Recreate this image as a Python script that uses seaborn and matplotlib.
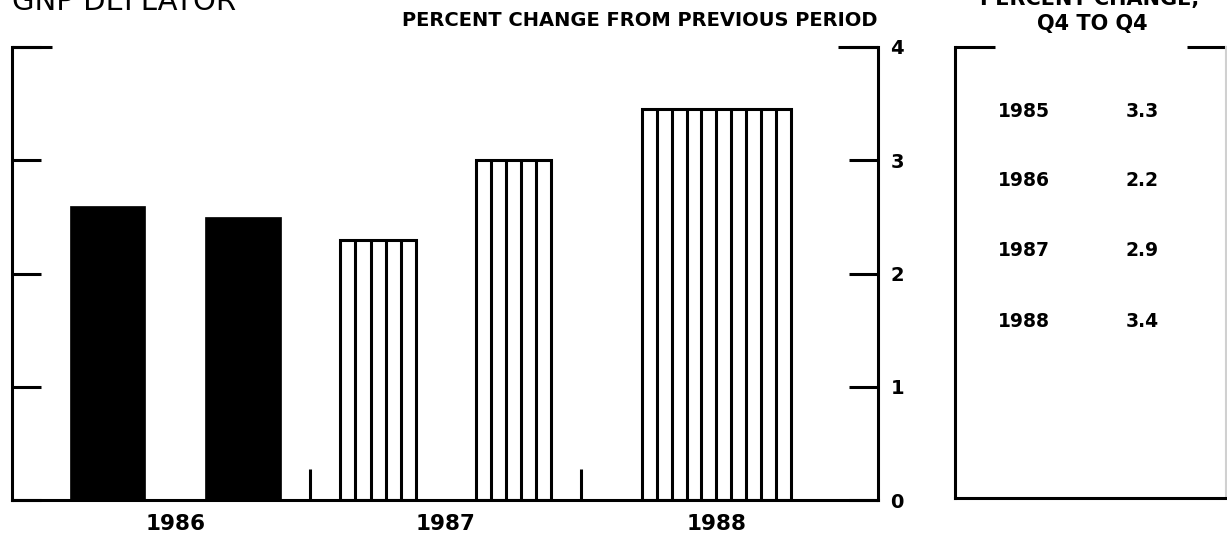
import numpy as np
import pandas as pd
import matplotlib
matplotlib.use("Agg")
import matplotlib.pyplot as plt
import seaborn as sns

# ---- data ----
periods = ["1986 H1", "1986 H2", "1987 H1", "1987 H2", "1988"]
positions = [0.5, 1.5, 2.5, 3.5, 5.0]          # half-year index
values = [2.6, 2.5, 2.3, 3.0, 3.45]             # percent change, annual rate
kinds = ["actual", "actual", "projected", "projected", "projected"]
spans = [1, 1, 1, 1, 2]                          # number of half-years covered
year_labels = ["1986", "1987", "1988"]
year_centers = [1, 3, 5]
year_breaks = [2, 4]
yticks = [0, 1, 2, 3, 4]
table_years = ["1985", "1986", "1987", "1988"]
table_values = ["3.3", "2.2", "2.9", "3.4"]

df = pd.DataFrame({"period": periods, "pos": positions, "value": values,
                   "kind": kinds, "span": spans})

sns.set_theme(style="white")
plt.rcParams["font.family"] = ["DejaVu Sans"]
plt.rcParams["text.color"] = "black"
plt.rcParams["axes.labelcolor"] = "black"
plt.rcParams["xtick.color"] = "black"
plt.rcParams["ytick.color"] = "black"
plt.rcParams["xtick.labelcolor"] = "black"
plt.rcParams["ytick.labelcolor"] = "black"

W, H = 1227, 538
fig = plt.figure(figsize=(W / 100, H / 100), dpi=100)

def fx(px):
    return px / W

def fy(py):
    return 1 - py / H

LW = 2.2
BAR_W = 0.56

# ---- main bar chart ----
ax = fig.add_axes([fx(12), fy(500), fx(878) - fx(12), fy(47) - fy(500)])
sns.barplot(data=df, x="pos", y="value", hue="kind", native_scale=True,
            palette={"actual": "black", "projected": "white"},
            width=BAR_W, legend=False, ax=ax, saturation=1, errorbar=None)

for p in ax.patches:
    cx = p.get_x() + p.get_width() / 2
    row = df.iloc[int(np.argmin(np.abs(df["pos"].values - cx)))]
    w = BAR_W * row["span"] * 0.98 if row["span"] > 1 else BAR_W
    p.set_x(row["pos"] - w / 2)
    p.set_width(w)
    if row["kind"] == "actual":
        p.set_facecolor("black")
        p.set_edgecolor("black")
        p.set_linewidth(0.5)
    else:
        p.set_facecolor("white")
        p.set_edgecolor("black")
        p.set_linewidth(LW)
        left, right, top = p.get_x(), p.get_x() + p.get_width(), p.get_height()
        n = int(round(w / 0.111))
        xs = np.linspace(left, right, n + 1)[1:-1]
        ax.vlines(xs, 0, top, colors="black", linewidth=LW, zorder=3)

ax.set_xlim(-0.206, 6.195)
ax.set_ylim(0, 4)
ax.set_xlabel("")
ax.set_ylabel("")

for s in ["left", "bottom", "right"]:
    ax.spines[s].set_visible(True)
    ax.spines[s].set_linewidth(LW)
    ax.spines[s].set_color("black")
ax.spines["top"].set_visible(False)

ax.set_yticks(yticks)
ax.set_yticklabels([str(v) for v in yticks])
ax.tick_params(axis="y", which="major", direction="in", length=21, width=LW,
               left=True, right=True, labelleft=False, labelright=True,
               pad=9, labelsize=14, color="black", labelcolor="black")
for t in ax.get_yticklabels():
    t.set_fontweight("bold")

ax.set_xticks(year_centers)
ax.set_xticklabels(year_labels)
ax.set_xticks(year_breaks, minor=True)
ax.tick_params(axis="x", which="major", length=0, pad=10, labelsize=15.5,
               labelcolor="black")
ax.tick_params(axis="x", which="minor", direction="in", length=22, width=LW,
               bottom=True, color="black")
for t in ax.get_xticklabels():
    t.set_fontweight("bold")

# top corner brackets
ax.plot([0, 40 / 866], [1, 1], transform=ax.transAxes, color="black",
        lw=LW, clip_on=False, solid_capstyle="butt")
ax.plot([1 - 40 / 866, 1], [1, 1], transform=ax.transAxes, color="black",
        lw=LW, clip_on=False, solid_capstyle="butt")

# ---- side table ----
ax2 = fig.add_axes([fx(955), fy(498), fx(1226) - fx(955), fy(47) - fy(498)])
ax2.set_xlim(0, 1)
ax2.set_ylim(0, 1)
ax2.set_xticks([])
ax2.set_yticks([])
ax2.spines["top"].set_visible(False)
for s in ["left", "bottom"]:
    ax2.spines[s].set_linewidth(LW)
    ax2.spines[s].set_color("black")
ax2.spines["right"].set_linewidth(1.5)
ax2.spines["right"].set_color("#d0d0d0")
ax2.plot([0, 40 / 271], [1, 1], transform=ax2.transAxes, color="black",
         lw=LW, clip_on=False, solid_capstyle="butt")
ax2.plot([1 - 39 / 271, 1], [1, 1], transform=ax2.transAxes, color="black",
         lw=LW, clip_on=False, solid_capstyle="butt")

row_y = [0.856, 0.703, 0.548, 0.392]
for yr, val, yy in zip(table_years, table_values, row_y):
    ax2.text(0.255, yy, yr, ha="center", va="center", fontsize=13.5,
             fontweight="bold", color="black", transform=ax2.transAxes)
    ax2.text(0.69, yy, val, ha="center", va="center", fontsize=13.5,
             fontweight="bold", color="black", transform=ax2.transAxes)

# ---- titles (partly cut off at the top edge, as in the source) ----
fig.text(fx(12), fy(10), "GNP DEFLATOR", ha="left", va="baseline",
         fontsize=21, color="black")
fig.text(fx(877), fy(26), "PERCENT CHANGE FROM PREVIOUS PERIOD", ha="right",
         va="baseline", fontsize=14, fontweight="bold", color="black")
fig.text(fx(1090), fy(5), "PERCENT CHANGE,", ha="center", va="baseline",
         fontsize=15, fontweight="bold", color="black")
fig.text(fx(1092), fy(30), "Q4 TO Q4", ha="center", va="baseline",
         fontsize=15, fontweight="bold", color="black")

fig.savefig("out.png", dpi=100)
